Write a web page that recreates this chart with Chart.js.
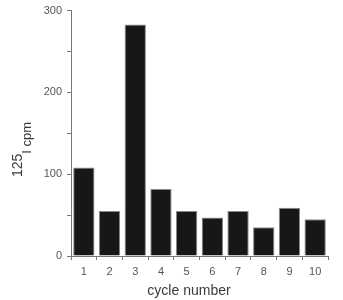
<!DOCTYPE html>
<html>
<head>
<meta charset="utf-8">
<script src="https://cdn.jsdelivr.net/npm/chart.js@4"></script>
<style>
  html, body { margin: 0; padding: 0; background: #fff; }
  #wrap { width: 343px; height: 300px; }
</style>
</head>
<body>
<div id="wrap"><canvas id="chart" width="343" height="300"></canvas></div>
<script>
// cycle numbers and measured counts
const cycles = ['1', '2', '3', '4', '5', '6', '7', '8', '9', '10'];
const cpm = [108, 55, 283, 82, 55, 47, 55, 35, 59, 45];
const yMajorTicks = [0, 100, 200, 300];

const FONT = "Helvetica, Arial, 'Liberation Sans', sans-serif";

// axis titles drawn by hand: y has a superscript 125, x sits a bit left of centre
const axisTitles = {
  id: 'axisTitles',
  afterDraw(chart) {
    const ctx = chart.ctx;
    ctx.save();
    ctx.fillStyle = '#3a3a3a';
    ctx.textBaseline = 'alphabetic';
    ctx.textAlign = 'center';
    ctx.font = '14px ' + FONT;
    ctx.fillText('cycle number', 189, 295);

    ctx.rotate(-Math.PI / 2);
    ctx.textAlign = 'left';
    const start = -177;
    ctx.font = '14px ' + FONT;
    ctx.fillText('125', start, 22);
    const w = ctx.measureText('125').width;
    ctx.font = '13px ' + FONT;
    ctx.fillText('I cpm', start + w, 31);
    ctx.restore();
  }
};

new Chart(document.getElementById('chart'), {
  type: 'bar',
  data: {
    labels: cycles,
    datasets: [{
      data: cpm,
      backgroundColor: '#171717',
      borderColor: '#8a8a8a',
      borderWidth: 1,
      barPercentage: 0.83,
      categoryPercentage: 1
    }]
  },
  options: {
    responsive: false,
    animation: false,
    layout: { padding: { top: 9, right: 15, left: 0, bottom: 0 } },
    plugins: { legend: { display: false }, tooltip: { enabled: false } },
    scales: {
      x: {
        offset: true,
        grid: { offset: true, drawOnChartArea: false, tickLength: 4, color: '#777' },
        border: { color: '#777', width: 1 },
        ticks: { color: '#555', font: { family: FONT, size: 11 }, padding: 5 },
        afterFit(scale) { scale.height = 44; }
      },
      y: {
        min: 0,
        max: 300,
        ticks: {
          stepSize: 50,
          color: '#555',
          font: { family: FONT, size: 11, lineHeight: 1 },
          padding: 5,
          callback: v => yMajorTicks.includes(v) ? String(v) : ''
        },
        grid: { drawOnChartArea: false, tickLength: 4, color: '#777' },
        border: { color: '#777', width: 1 },
        afterFit(scale) { scale.width = 71; }
      }
    }
  },
  plugins: [axisTitles]
});
</script>
</body>
</html>
